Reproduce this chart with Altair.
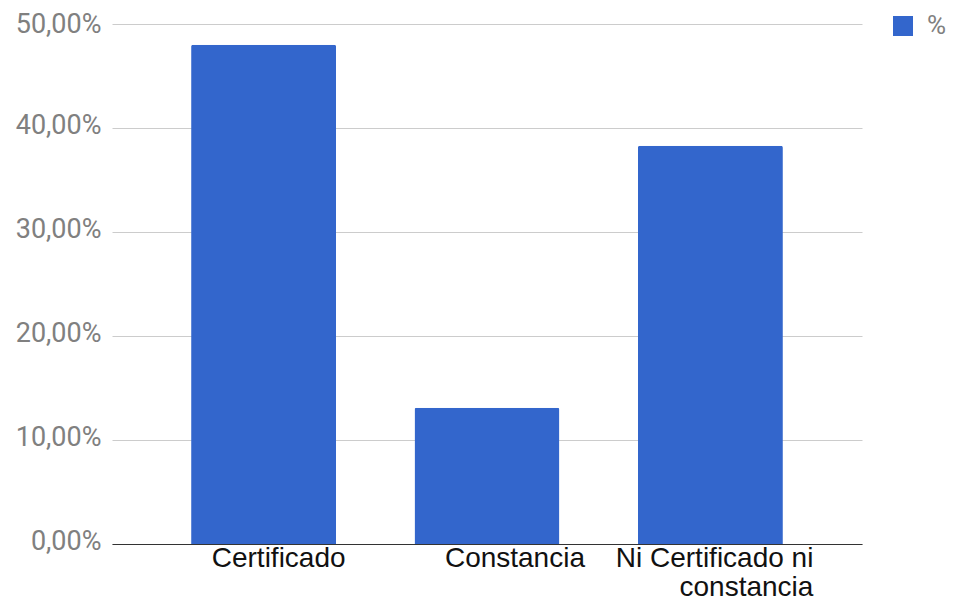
import altair as alt
import pandas as pd

categories = ["Certificado", "Constancia", "Ni Certificado ni constancia"]
values = [0.4800, 0.1310, 0.3830]
series = ["%", "%", "%"]
y_ticks = [0.0, 0.1, 0.2, 0.3, 0.4, 0.5]

df = pd.DataFrame({"cat": categories, "val": values, "serie": series})

x_label_offset = {
    "condition": [
        {"test": "datum.value == 'Certificado'", "value": 82},
        {"test": "datum.value == 'Constancia'", "value": 98},
    ],
    "value": 103,
}

y_label_offset = {
    "condition": [{"test": "datum.value >= 0.5", "value": 0}],
    "value": -3,
}

chart = (
    alt.Chart(df)
    .mark_bar(color="#3366cc", cornerRadiusTopLeft=2, cornerRadiusTopRight=2)
    .encode(
        x=alt.X(
            "cat:N",
            sort=categories,
            title=None,
            scale=alt.Scale(paddingInner=0.351, paddingOuter=0.354),
            axis=alt.Axis(
                labelAngle=0,
                labelFont="Liberation Sans",
                labelFontSize=28,
                labelColor="#111111",
                labelAlign="right",
                labelBaseline="top",
                labelLineHeight=29,
                labelPadding=0,
                labelOffset=x_label_offset,
                labelLimit=0,
                labelExpr="datum.value == 'Ni Certificado ni constancia' ? ['Ni Certificado ni', 'constancia'] : datum.value",
                ticks=False,
                tickSize=0,
                domainColor="#333333",
                domainWidth=1,
                grid=False,
                labelOverlap=False,
            ),
        ),
        y=alt.Y(
            "val:Q",
            title=None,
            scale=alt.Scale(domain=[0, 0.5], nice=False),
            axis=alt.Axis(
                values=y_ticks,
                labelExpr="replace(format(datum.value, '.2%'), '.', ',')",
                labelFont="Roboto",
                labelFontSize=27,
                labelColor="#808080",
                labelPadding=11,
                labelOffset=y_label_offset,
                ticks=False,
                tickSize=0,
                domain=False,
                grid=True,
                gridColor="#cccccc",
                gridWidth=1,
            ),
        ),
        color=alt.Color(
            "serie:N",
            scale=alt.Scale(range=["#3366cc"]),
            legend=alt.Legend(
                title=None,
                orient="none",
                legendX=778,
                legendY=-11,
                symbolType="square",
                symbolSize=400,
                symbolStrokeWidth=0,
                labelFont="Roboto",
                labelFontSize=26,
                labelColor="#808080",
                labelOffset=11,
                padding=0,
            ),
        ),
    )
    .properties(
        width=750,
        height=520,
        autosize=alt.AutoSizeParams(type="none"),
        padding={"left": 104, "top": 16, "right": 84, "bottom": 56},
    )
    .configure(background="white")
    .configure_view(stroke=None)
)

chart.save("out.html", embed_options={"renderer": "svg", "actions": False})
